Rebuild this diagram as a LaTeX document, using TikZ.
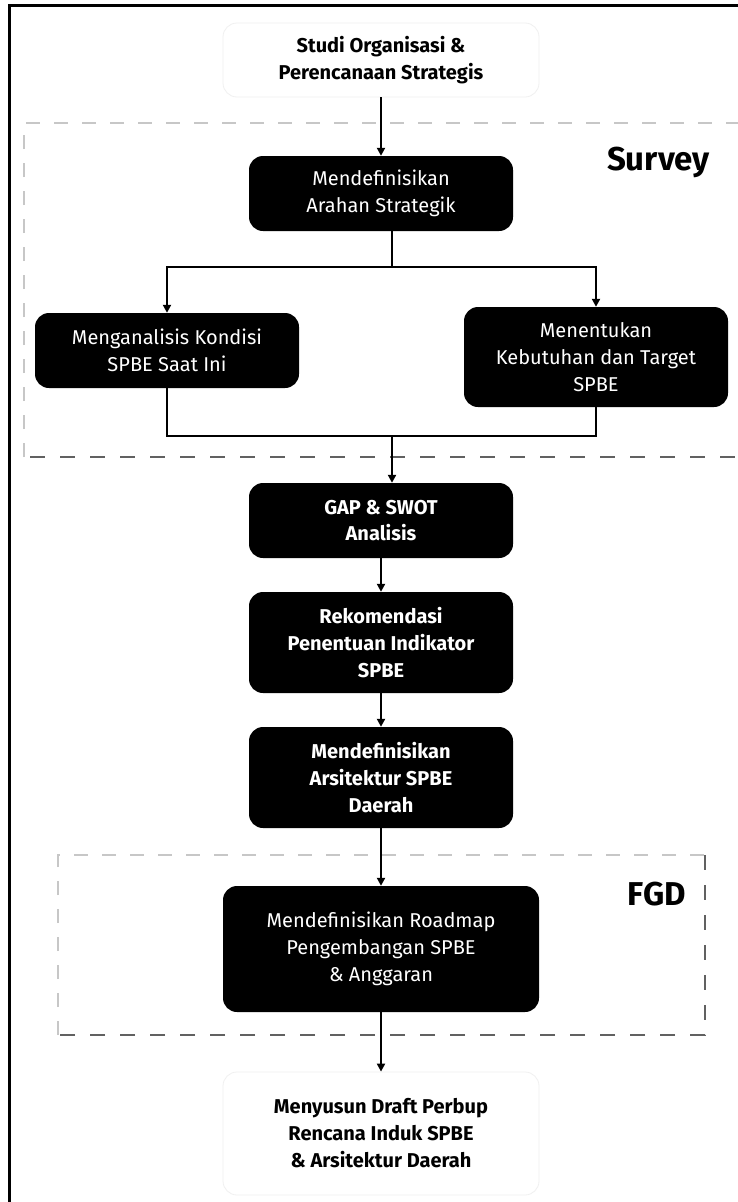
\documentclass[tikz,border=0pt]{standalone}
\usepackage{fontspec}
\setmainfont{Fira Sans}
\usetikzlibrary{arrows.meta}
\begin{document}
\begin{tikzpicture}[x=1pt,y=-1pt,
  darkbox/.style={fill=black, text=white, rounded corners=14pt, align=center,
    minimum width=264pt, minimum height=75pt, inner sep=0pt,
    font=\fontsize{20}{26.7}\selectfont},
  boldtext/.style={font=\bfseries\fontsize{20}{26.7}\selectfont},
  lightbox/.style={draw=black!6, line width=0.8pt, fill=white, rounded corners=14pt,
    align=center, minimum width=316pt, inner sep=0pt,
    font=\bfseries\fontsize{20}{27}\selectfont},
  flow/.style={line width=2.8pt, -{Triangle[length=8pt,width=8pt]}},
  link/.style={line width=2.8pt},
  lightdash/.style={draw=black!22, line width=1.5pt, dash pattern=on 14pt off 14pt},
  darkdash/.style={draw=black!62, line width=1.5pt, dash pattern=on 15pt off 15pt},
  tag/.style={font=\bfseries\fontsize{33}{33}\selectfont, anchor=base east, inner sep=0pt}
]
\useasboundingbox (0,0) rectangle (737,1202);
\fill[white] (0,0) rectangle (737,1202);

% outer frame
\draw[line width=2.4pt] (9.5,1210) -- (9.5,5.5) -- (745,5.5);

% Survey group
\draw[lightdash] (24,457) -- (24,123) -- (745,123);
\draw[darkdash] (30,457) -- (745,457);
\node[tag] (survey) at (710,170) {Survey};

% FGD group
\draw[lightdash] (58,1035) -- (58,855) -- (705,855);
\draw[darkdash] (705,855) -- (705,1035) -- (58,1035);
\node[tag] (fgd) at (686,905) {FGD};

% process steps
\node[lightbox, minimum height=74pt] (start) at (381,60)
  {Studi Organisasi \&\\Perencanaan Strategis};
\node[darkbox] (arah) at (381,193.5) {Mendefinisikan\\Arahan Strategik};
\node[darkbox] (kondisi) at (167,350.5) {Menganalisis Kondisi\\SPBE Saat Ini};
\node[darkbox, minimum height=100pt] (target) at (596,357)
  {Menentukan\\Kebutuhan dan Target\\SPBE};
\node[darkbox, boldtext] (gap) at (381,520.5) {GAP \& SWOT\\Analisis};
\node[darkbox, boldtext, minimum height=101pt] (rekom) at (381,642.5)
  {Rekomendasi\\Penentuan Indikator\\SPBE};
\node[darkbox, boldtext, minimum height=101pt] (arsi) at (381,777.5)
  {Mendefinisikan\\Arsitektur SPBE\\Daerah};
\node[darkbox, minimum width=316pt, minimum height=126pt] (roadmap) at (381,949)
  {Mendefinisikan Roadmap\\Pengembangan SPBE\\\& Anggaran};
\node[lightbox, minimum height=123pt] (draft) at (381,1133.5)
  {Menyusun Draft Perbup\\Rencana Induk SPBE\\\& Arsitektur Daerah};

% connectors
\coordinate (fork) at (392,267);
\coordinate (join) at (392,436);
\draw[flow] (start) -- (arah);
\draw[link] (arah.south -| fork) -- (fork);
\draw[flow] (fork) -| (kondisi);
\draw[flow] (fork) -| (target);
\draw[link] (kondisi) |- (join);
\draw[link] (target) |- (join);
\draw[flow] (join) -- (gap.north -| join);
\draw[flow] (gap) -- (rekom);
\draw[flow] (rekom) -- (arsi);
\draw[flow] (arsi) -- (roadmap);
\draw[flow] (roadmap) -- (draft);
\end{tikzpicture}
\end{document}
